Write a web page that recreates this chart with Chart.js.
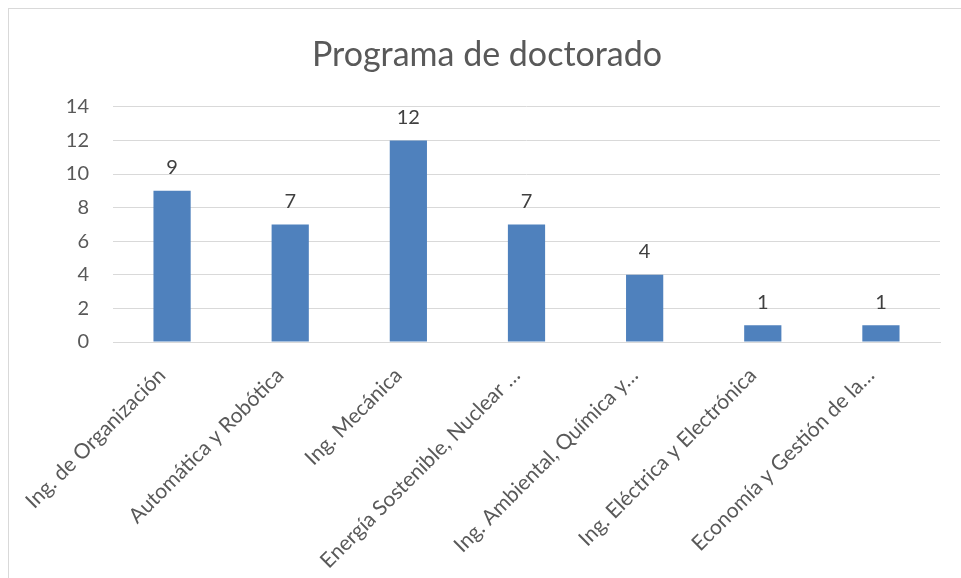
<!DOCTYPE html>
<html>
<head>
<meta charset="utf-8">
<script src="https://cdn.jsdelivr.net/npm/chart.js@4.4.1/dist/chart.umd.min.js"></script>
<style>
  body { margin: 0; background: #fff; }
  #frame { position: absolute; left: 8px; top: 8px; width: 970px; height: 590px; border: 1px solid #d9d9d9; }
  #wrap { position: absolute; left: 0; top: 0; width: 961px; height: 578px; }
</style>
</head>
<body>
<div id="frame"></div>
<div id="wrap"><canvas id="doctoradoChart"></canvas></div>
<script>
// Datos del gráfico
const categorias = [
    'Ing. de Organización',
    'Automática y Robótica',
    'Ing. Mecánica',
    'Energía Sostenible, Nuclear …',
    'Ing. Ambiental, Química y…',
    'Ing. Eléctrica y Electrónica',
    'Economía y Gestión de la…'
];
const valores = [9, 7, 12, 7, 4, 1, 1];
const ticksY = [0, 2, 4, 6, 8, 10, 12, 14];

const fuente = 'Lato, "Open Sans", sans-serif';

// Plugin sencillo para las etiquetas de datos encima de cada barra
const etiquetasDatos = {
    id: 'etiquetasDatos',
    afterDatasetsDraw(chart) {
        const ctx = chart.ctx;
        const meta = chart.getDatasetMeta(0);
        ctx.save();
        ctx.font = '20px ' + fuente;
        ctx.fillStyle = '#404040';
        ctx.textAlign = 'center';
        ctx.textBaseline = 'bottom';
        meta.data.forEach(function(bar, i) {
            ctx.fillText(String(valores[i]), bar.x, bar.y - 13);
        });
        ctx.restore();
    }
};

const ctx = document.getElementById('doctoradoChart').getContext('2d');
new Chart(ctx, {
    type: 'bar',
    data: {
        labels: categorias,
        datasets: [{
            data: valores,
            backgroundColor: '#4f81bd',
            categoryPercentage: 1,
            barPercentage: 0.315
        }]
    },
    options: {
        responsive: true,
        maintainAspectRatio: false,
        animation: false,
        layout: { padding: { left: 34, right: 21, top: 0, bottom: 0 } },
        plugins: {
            legend: { display: false },
            tooltip: { enabled: false },
            title: {
                display: true,
                text: 'Programa de doctorado',
                color: '#595959',
                font: { family: fuente, size: 34, weight: 'normal' },
                padding: { top: 35, bottom: 31 }
            }
        },
        scales: {
            x: {
                grid: { display: false, drawTicks: false },
                border: { color: '#d9d9d9' },
                ticks: {
                    color: '#595959',
                    font: { family: fuente, size: 21 },
                    autoSkip: false,
                    maxRotation: 45,
                    minRotation: 45,
                    padding: 21,
                    labelOffset: -10
                },
                afterFit: function(scale) { scale.height = 236; }
            },
            y: {
                min: 0,
                max: 14,
                grid: { color: '#d9d9d9', drawTicks: false },
                border: { display: false },
                afterBuildTicks: function(scale) {
                    scale.ticks = ticksY.map(v => ({ value: v }));
                },
                ticks: {
                    color: '#595959',
                    font: { family: fuente, size: 20 },
                    padding: 24
                },
                afterFit: function(scale) { scale.width = 79; }
            }
        }
    },
    plugins: [etiquetasDatos]
});
</script>
</body>
</html>
